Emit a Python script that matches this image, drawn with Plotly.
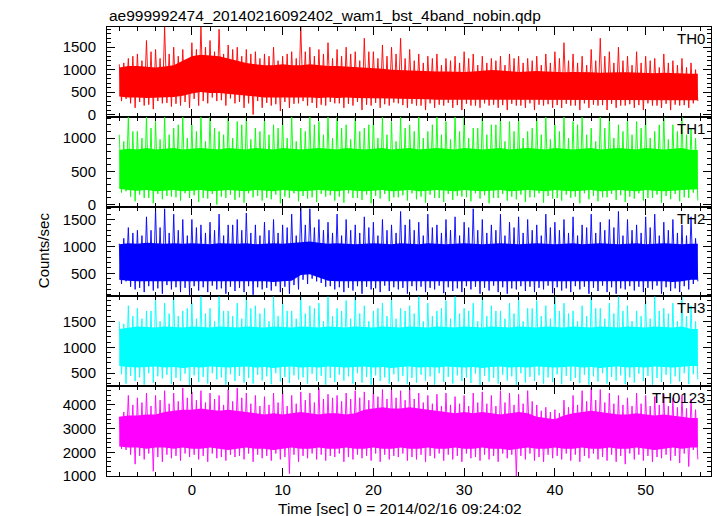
import plotly.graph_objects as go

# ---------------- data (two spikes per second) ----------------
time_s = list(range(-8, 56))  # seconds relative to 2014/02/16 09:24:02

names = ["TH0", "TH1", "TH2", "TH3", "TH0123"]
colors = ["#ff0000", "#00ff00", "#0000ff", "#00ffff", "#ff00ff"]

# TH0 (red)
th0_hi = [1120, 1250, 1350, 1650, 1450, 1950, 1500, 1450,
          1600, 1950, 1650, 1900, 1550, 1500, 1450, 1400,
          1350, 1500, 1300, 1400, 1950, 1500, 1450, 1600,
          1450, 1500, 1400, 1700, 1400, 1550, 1500, 1700,
          1450, 1350, 1300, 1350, 1250, 1300, 1400, 1350,
          1300, 1250, 1300, 1350, 1300, 1250, 1300, 1350,
          1400, 1600, 1350, 1300, 1450, 1700, 1400, 1500,
          1300, 1400, 1300, 1250, 1350, 1200, 1250, 1150]
th0_hi2 = [1150, 1300, 1200, 1400, 1250, 1350, 1300, 1200,
           1450, 1500, 1400, 1350, 1450, 1300, 1350, 1250,
           1300, 1200, 1350, 1250, 1400, 1300, 1350, 1250,
           1300, 1350, 1200, 1400, 1250, 1300, 1350, 1250,
           1200, 1150, 1250, 1100, 1200, 1150, 1250, 1100,
           1150, 1200, 1100, 1250, 1150, 1200, 1100, 1150,
           1250, 1200, 1150, 1100, 1200, 1300, 1150, 1200,
           1100, 1150, 1200, 1050, 1150, 1100, 1050, 1000]
th0_lo = [350, 150, 200, 120, 250, 180, 200, 150,
          200, 250, 300, 200, 250, 150, 0, 150,
          200, 80, 150, 250, 200, 150, 200, 250,
          150, 200, 100, 200, 150, 200, 250, 150,
          200, 100, 150, 200, 150, 100, 200, 150,
          200, 150, 100, 200, 150, 100, 200, 150,
          150, 200, 100, 150, 200, 100, 150, 200,
          150, 100, 200, 150, 100, 200, 150, 300]
th0_lo2 = [300, 250, 280, 220, 300, 260, 240, 280,
           350, 300, 380, 320, 360, 280, 250, 300,
           260, 230, 280, 240, 300, 260, 220, 280,
           250, 240, 280, 220, 260, 230, 270, 210,
           240, 200, 250, 220, 260, 210, 240, 200,
           250, 220, 210, 240, 200, 250, 220, 230,
           210, 240, 200, 250, 220, 210, 240, 200,
           230, 210, 250, 200, 240, 220, 210, 250]
th0_clo = [400, 380, 380, 370, 380, 380, 390, 420,
           470, 500, 480, 480, 470, 450, 420, 400,
           380, 370, 380, 380, 380, 380, 370, 380,
           370, 380, 370, 360, 360, 360, 360, 350,
           350, 340, 340, 330, 330, 330, 320, 330,
           330, 320, 320, 320, 330, 330, 320, 320,
           330, 330, 320, 320, 320, 330, 320, 320,
           330, 320, 320, 320, 330, 320, 320, 320]
th0_chi = [1050, 1080, 1080, 1060, 1050, 1070, 1100, 1200,
           1300, 1330, 1320, 1300, 1250, 1200, 1150, 1120,
           1100, 1100, 1120, 1100, 1100, 1120, 1100, 1080,
           1080, 1070, 1050, 1050, 1040, 1020, 1000, 990,
           980, 970, 970, 960, 960, 950, 950, 960,
           980, 990, 980, 960, 950, 960, 970, 960,
           950, 940, 950, 950, 940, 930, 940, 940,
           940, 930, 930, 920, 930, 920, 920, 910]

# TH1 (green)
th1_hi = [1050, 1320, 1100, 1320, 1250, 1320, 1150, 1320,
          1200, 1320, 1320, 1100, 1320, 1250, 1320, 1150,
          1320, 1200, 1320, 1320, 1150, 1320, 1250, 1320,
          1320, 1200, 1320, 1150, 1320, 1320, 1250, 1320,
          1200, 1320, 1100, 1320, 1250, 1320, 1320, 1150,
          1320, 1200, 1320, 1250, 1320, 1100, 1320, 1320,
          1200, 1320, 1250, 1320, 1150, 1320, 1320, 1200,
          1320, 1250, 1320, 1100, 1320, 1200, 1320, 1150]
th1_hi2 = [950, 1100, 1000, 1150, 980, 1050, 1200, 1000,
           1100, 950, 1150, 1050, 1000, 1200, 980, 1100,
           1050, 1150, 1000, 950, 1100, 1200, 1050, 1000,
           1150, 980, 1100, 1200, 1000, 1050, 950, 1150,
           1100, 1000, 1200, 1050, 980, 1100, 1000, 1150,
           1050, 1200, 950, 1100, 1000, 1150, 1050, 980,
           1100, 1000, 1200, 1050, 950, 1150, 1000, 1100,
           1050, 1150, 1000, 1200, 980, 1100, 1050, 1000]
th1_lo = [200, 50, 100, 20, 80, 120, 60, 100,
          40, 90, 0, 100, 70, 30, 110, 60,
          80, 20, 100, 50, 90, 40, 120, 60,
          30, 100, 70, 20, 90, 50, 110, 60,
          80, 30, 100, 40, 70, 120, 50, 90,
          20, 100, 60, 80, 40, 110, 30, 90,
          60, 100, 20, 80, 50, 110, 70, 40,
          90, 60, 100, 30, 80, 50, 100, 60]
th1_lo2 = [180, 120, 150, 100, 160, 130, 110, 170,
           140, 100, 160, 120, 150, 110, 170, 130,
           100, 150, 120, 170, 130, 110, 160, 140,
           120, 170, 100, 150, 130, 160, 110, 140,
           170, 120, 150, 100, 160, 130, 110, 170,
           140, 100, 160, 120, 150, 110, 170, 130,
           100, 150, 120, 170, 130, 110, 160, 140,
           120, 170, 100, 150, 130, 160, 110, 180]
th1_clo = [240, 220, 210, 220, 200, 210, 220, 200,
           210, 220, 200, 210, 220, 210, 200, 220,
           210, 200, 220, 210, 200, 210, 220, 210,
           200, 220, 210, 200, 210, 220, 200, 210,
           220, 200, 210, 220, 210, 200, 220, 210,
           200, 210, 220, 200, 210, 220, 210, 200,
           220, 210, 200, 210, 220, 200, 210, 220,
           210, 200, 220, 210, 200, 210, 220, 230]
th1_chi = [820, 840, 830, 850, 830, 840, 850, 830,
           840, 850, 840, 830, 850, 840, 830, 850,
           840, 830, 850, 840, 830, 840, 850, 840,
           830, 850, 840, 830, 840, 850, 830, 840,
           850, 830, 840, 850, 840, 830, 850, 840,
           830, 840, 850, 830, 840, 850, 840, 830,
           850, 840, 830, 840, 850, 830, 840, 850,
           840, 830, 850, 840, 830, 840, 850, 820]

# TH2 (blue)
th2_hi = [1050, 1350, 1300, 1550, 1700, 1700, 1600, 1500,
          1500, 1400, 1450, 1600, 1400, 1500, 1620, 1400,
          1450, 1500, 1400, 1600, 1740, 1700, 1500, 1450,
          1600, 1500, 1400, 1550, 1450, 1500, 1400, 1650,
          1500, 1450, 1600, 1400, 1500, 1550, 1450, 1700,
          1500, 1400, 1600, 1450, 1550, 1500, 1400, 1600,
          1450, 1500, 1550, 1400, 1600, 1450, 1500, 1650,
          1500, 1400, 1550, 1600, 1450, 1500, 1400, 1550]
th2_hi2 = [1150, 1250, 1200, 1300, 1350, 1250, 1300, 1200,
           1350, 1250, 1300, 1200, 1400, 1300, 1250, 1200,
           1300, 1250, 1350, 1200, 1400, 1350, 1300, 1250,
           1200, 1300, 1250, 1350, 1200, 1300, 1250, 1400,
           1300, 1200, 1350, 1250, 1300, 1200, 1350, 1300,
           1250, 1300, 1200, 1350, 1250, 1300, 1200, 1350,
           1300, 1250, 1200, 1350, 1250, 1300, 1350, 1200,
           1300, 1250, 1350, 1200, 1300, 1250, 1200, 1150]
th2_lo = [350, 200, 150, 180, 120, 200, 150, 100,
          180, 150, 200, 120, 170, 150, 100, 200,
          180, 150, 120, 200, 300, 350, 250, 200,
          150, 180, 120, 200, 150, 170, 200, 120,
          180, 150, 200, 130, 170, 150, 200, 120,
          180, 150, 120, 200, 170, 150, 200, 130,
          180, 150, 200, 120, 170, 150, 120, 200,
          180, 150, 200, 120, 170, 150, 200, 350]
th2_lo2 = [300, 250, 230, 260, 220, 280, 240, 230,
           260, 240, 270, 220, 250, 230, 260, 240,
           230, 260, 250, 280, 380, 400, 320, 260,
           240, 230, 260, 250, 220, 270, 240, 230,
           260, 250, 230, 270, 240, 220, 260, 250,
           230, 270, 240, 220, 260, 250, 230, 270,
           240, 220, 260, 250, 230, 270, 240, 220,
           260, 250, 230, 270, 240, 220, 260, 300]
th2_clo = [380, 360, 350, 350, 340, 350, 350, 340,
           350, 350, 350, 340, 350, 350, 340, 350,
           350, 340, 350, 360, 470, 480, 420, 360,
           350, 340, 350, 350, 340, 350, 350, 340,
           350, 350, 340, 350, 350, 340, 350, 350,
           340, 350, 350, 340, 350, 350, 340, 350,
           350, 340, 350, 350, 340, 350, 350, 340,
           350, 350, 340, 350, 350, 340, 350, 380]
th2_chi = [1040, 1060, 1050, 1070, 1060, 1050, 1060, 1050,
           1060, 1050, 1040, 1060, 1050, 1050, 1060, 1040,
           1050, 1060, 1050, 1060, 1080, 1090, 1070, 1050,
           1060, 1050, 1040, 1050, 1060, 1050, 1040, 1060,
           1050, 1040, 1060, 1050, 1040, 1050, 1060, 1050,
           1040, 1050, 1060, 1050, 1040, 1050, 1060, 1050,
           1040, 1050, 1060, 1040, 1050, 1060, 1050, 1040,
           1050, 1060, 1040, 1050, 1060, 1050, 1040, 1050]

# TH3 (cyan)
th3_hi = [1500, 1800, 1750, 1700, 1980, 1850, 1980, 1700,
          1850, 1980, 1750, 1980, 1700, 1850, 1980, 1800,
          1750, 1980, 1850, 1700, 1980, 1800, 1850, 1980,
          1750, 1900, 1980, 1800, 1700, 1850, 1980, 1750,
          1800, 1980, 1850, 1700, 1900, 1980, 1750, 1850,
          1980, 1800, 1700, 1850, 1980, 1750, 1900, 1800,
          1980, 1850, 1700, 1800, 1980, 1750, 1850, 1980,
          1800, 1700, 1900, 1980, 1750, 1850, 1980, 1800]
th3_hi2 = [1450, 1600, 1550, 1700, 1500, 1650, 1600, 1750,
           1550, 1650, 1500, 1700, 1600, 1550, 1750, 1650,
           1500, 1600, 1700, 1550, 1650, 1750, 1500, 1600,
           1700, 1550, 1650, 1500, 1750, 1600, 1550, 1700,
           1650, 1500, 1600, 1750, 1550, 1650, 1700, 1500,
           1600, 1700, 1550, 1650, 1500, 1750, 1600, 1550,
           1700, 1650, 1500, 1600, 1750, 1550, 1650, 1700,
           1500, 1600, 1550, 1700, 1650, 1500, 1600, 1500]
th3_lo = [300, 350, 280, 320, 400, 300, 350, 260,
          330, 300, 380, 280, 350, 320, 300, 360,
          290, 340, 310, 380, 300, 350, 280, 330,
          360, 300, 320, 280, 350, 300, 340, 290,
          320, 360, 280, 330, 300, 350, 310, 270,
          340, 300, 360, 280, 320, 350, 300, 330,
          290, 350, 310, 280, 340, 300, 360, 290,
          320, 350, 280, 330, 300, 340, 290, 380]
th3_lo2 = [480, 450, 420, 500, 440, 470, 410, 490,
           460, 430, 500, 420, 480, 450, 410, 470,
           440, 500, 430, 460, 420, 490, 450, 410,
           470, 440, 500, 430, 460, 420, 480, 450,
           410, 470, 440, 500, 430, 460, 420, 490,
           450, 410, 470, 440, 500, 430, 460, 420,
           480, 450, 410, 470, 440, 500, 430, 460,
           420, 490, 450, 410, 470, 440, 500, 480]
th3_clo = [640, 620, 610, 620, 630, 610, 620, 600,
           620, 610, 630, 620, 610, 620, 630, 610,
           620, 600, 620, 630, 610, 620, 610, 630,
           620, 610, 620, 630, 610, 620, 600, 620,
           630, 610, 620, 610, 630, 620, 610, 620,
           600, 620, 630, 610, 620, 610, 630, 620,
           610, 620, 630, 610, 620, 600, 620, 630,
           610, 620, 610, 630, 620, 610, 620, 640]
th3_chi = [1350, 1380, 1400, 1390, 1380, 1400, 1390, 1380,
           1400, 1390, 1380, 1400, 1390, 1380, 1400, 1390,
           1380, 1400, 1390, 1380, 1400, 1390, 1380, 1400,
           1390, 1380, 1400, 1390, 1380, 1400, 1390, 1380,
           1400, 1390, 1380, 1400, 1390, 1380, 1400, 1390,
           1380, 1400, 1390, 1380, 1400, 1390, 1380, 1400,
           1390, 1380, 1400, 1390, 1380, 1400, 1390, 1380,
           1400, 1390, 1380, 1400, 1390, 1380, 1400, 1350]

# TH0123 (magenta)
th4_hi = [3500, 4400, 4300, 4500, 4400, 4600, 4500, 4720,
          4550, 4600, 4500, 4400, 4650, 4720, 4500, 4400,
          4350, 4500, 4600, 4400, 4550, 4500, 4700, 4450,
          4400, 4500, 4600, 4550, 4720, 4650, 4700, 4600,
          4720, 4500, 4400, 4450, 4500, 4350, 4400, 4500,
          4550, 4400, 4600, 4500, 4450, 4600, 4000, 3900,
          3800, 4200, 4400, 4600, 4720, 4650, 4500, 4400,
          4300, 4500, 4400, 4350, 4450, 4300, 4400, 4250]
th4_hi2 = [3700, 4000, 4100, 3950, 4200, 4050, 4150, 4300,
           4200, 4100, 4250, 4000, 4150, 4300, 4050, 3950,
           4000, 4100, 3950, 4050, 4200, 4100, 4250, 4300,
           4150, 4250, 4300, 4200, 4350, 4250, 4300, 4200,
           4250, 4100, 4050, 3950, 4000, 4050, 3950, 4100,
           4050, 3950, 4100, 4000, 4050, 4150, 3750, 3700,
           3650, 3900, 4000, 4150, 4200, 4100, 4050, 4000,
           3950, 4050, 3950, 4000, 3950, 3900, 3850, 3800]
th4_lo = [2100, 1500, 1700, 1200, 1600, 1750, 1650, 1800,
          1700, 1600, 1750, 1650, 1800, 1700, 1600, 1750,
          1650, 1700, 1100, 1600, 1750, 1700, 1650, 1800,
          1600, 1700, 1750, 1650, 1600, 1700, 1800, 1650,
          1700, 1600, 1750, 1650, 1700, 1600, 1750, 1650,
          1700, 1600, 1750, 1000, 1700, 1650, 1600, 1750,
          1700, 1650, 1600, 1750, 1700, 1650, 1600, 1500,
          1700, 1650, 1600, 1750, 1650, 1550, 1400, 1700]
th4_lo2 = [2150, 1900, 1850, 1950, 1800, 1900, 1850, 1950,
           1900, 1850, 1950, 1800, 1900, 1850, 1950, 1900,
           1850, 1950, 1800, 1900, 1850, 1950, 1900, 1850,
           1950, 1800, 1900, 1850, 1950, 1900, 1850, 1950,
           1800, 1900, 1850, 1950, 1900, 1850, 1950, 1800,
           1900, 1850, 1950, 1900, 1850, 1950, 1800, 1900,
           1850, 1950, 1900, 1850, 1950, 1800, 1900, 1850,
           1950, 1900, 1850, 1800, 1900, 1850, 1950, 2100]
th4_clo = [2250, 2200, 2200, 2150, 2200, 2200, 2150, 2200,
           2150, 2150, 2200, 2150, 2100, 2150, 2200, 2150,
           2150, 2100, 2150, 2200, 2150, 2150, 2200, 2150,
           2150, 2200, 2150, 2150, 2200, 2150, 2150, 2200,
           2150, 2150, 2200, 2150, 2150, 2200, 2150, 2150,
           2200, 2150, 2150, 2100, 2150, 2200, 2150, 2150,
           2200, 2150, 2150, 2200, 2150, 2150, 2200, 2150,
           2150, 2200, 2150, 2100, 2150, 2200, 2150, 2200]
th4_chi = [3500, 3550, 3550, 3600, 3600, 3700, 3750, 3800,
           3800, 3850, 3800, 3750, 3800, 3750, 3700, 3650,
           3600, 3650, 3600, 3650, 3700, 3650, 3600, 3650,
           3650, 3600, 3650, 3800, 3850, 3900, 3850, 3850,
           3900, 3850, 3800, 3750, 3700, 3650, 3700, 3650,
           3700, 3650, 3600, 3650, 3700, 3650, 3500, 3450,
           3400, 3550, 3650, 3700, 3750, 3700, 3650, 3600,
           3600, 3650, 3600, 3550, 3600, 3550, 3500, 3450]

panel_hi = [th0_hi, th1_hi, th2_hi, th3_hi, th4_hi]
panel_hi2 = [th0_hi2, th1_hi2, th2_hi2, th3_hi2, th4_hi2]
panel_lo = [th0_lo, th1_lo, th2_lo, th3_lo, th4_lo]
panel_lo2 = [th0_lo2, th1_lo2, th2_lo2, th3_lo2, th4_lo2]
panel_clo = [th0_clo, th1_clo, th2_clo, th3_clo, th4_clo]
panel_chi = [th0_chi, th1_chi, th2_chi, th3_chi, th4_chi]

y_ranges = [[-50, 1950], [-30, 1320], [70, 1740], [250, 1980], [1000, 4790]]
y_dtick = [500, 500, 500, 500, 1000]
y_minor = [100, 100, 100, 100, 200]

title_text = "ae999992474_20140216092402_wam1_bst_4band_nobin.qdp"
x_title = "Time [sec] 0 = 2014/02/16 09:24:02"
y_title = "Counts/sec"

# ---------------- figure ----------------
FONT = "Liberation Sans, Arial, Helvetica, sans-serif"
fig = go.Figure()
n = len(names)

for i in range(n):
    xa = "x" if i == 0 else f"x{i+1}"
    ya = "y" if i == 0 else f"y{i+1}"
    col = colors[i]
    # dense core of the light curve
    bx = time_s + [time_s[-1] + 0.75] + [time_s[-1] + 0.75] + time_s[::-1]
    by = panel_chi[i] + [panel_chi[i][-1]] + [panel_clo[i][-1]] + panel_clo[i][::-1]
    fig.add_trace(go.Scatter(x=bx, y=by, xaxis=xa, yaxis=ya, mode="lines",
                             fill="toself", fillcolor=col, line=dict(width=0, color=col),
                             hoverinfo="skip", showlegend=False))
    # spikes
    sx, sy = [], []
    for k, t in enumerate(time_s):
        sx += [t, t + 0.25, t + 0.5, t + 0.75]
        sy += [panel_hi[i][k], panel_lo2[i][k], panel_hi2[i][k], panel_lo[i][k]]
    fig.add_trace(go.Scatter(x=sx, y=sy, xaxis=xa, yaxis=ya, mode="lines",
                             line=dict(width=0.9, color=col), showlegend=False))

axis_common = dict(showline=True, linecolor="black", linewidth=1, mirror="ticks",
                   ticks="inside", tickcolor="black", showgrid=False, zeroline=False,
                   tickfont=dict(family=FONT, size=15, color="black"))

layout = dict(width=717, height=516, plot_bgcolor="white", paper_bgcolor="white",
              margin=dict(l=107, r=6, t=27, b=40), showlegend=False,
              font=dict(family=FONT, size=15, color="black"))

for i in range(n):
    top = 1 - i / n
    bot = 1 - (i + 1) / n
    xkey = "xaxis" if i == 0 else f"xaxis{i+1}"
    ykey = "yaxis" if i == 0 else f"yaxis{i+1}"
    ya = "y" if i == 0 else f"y{i+1}"
    xd = dict(axis_common, domain=[0, 1], anchor=ya, range=[-9.35, 57.2],
              dtick=10, tick0=0, ticklen=8,
              minor=dict(dtick=2, tick0=0, ticklen=4, ticks="inside", tickcolor="black"),
              showticklabels=(i == n - 1))
    if i > 0:
        xd["matches"] = "x"
    layout[xkey] = xd
    layout[ykey] = dict(axis_common, domain=[bot, top], anchor="x" if i == 0 else f"x{i+1}",
                        range=y_ranges[i], dtick=y_dtick[i], tick0=0, ticklen=8,
                        ticklabelstandoff=7,
                        minor=dict(dtick=y_minor[i], tick0=0, ticklen=4, ticks="inside",
                                   tickcolor="black"))

fig.update_layout(**layout)

ann = [dict(text=title_text, xref="paper", yref="paper", x=0, y=1, xanchor="left",
            yanchor="bottom", yshift=1, showarrow=False, font=dict(family=FONT, size=15.5)),
       dict(text=y_title, xref="paper", yref="paper", x=0, y=0.503, xshift=-64,
            xanchor="center", yanchor="middle",
            textangle=-90, showarrow=False, font=dict(family=FONT, size=15)),
       dict(text=x_title, xref="paper", yref="paper", x=0.485, y=0, yshift=-32,
            xanchor="center", yanchor="middle", showarrow=False,
            font=dict(family=FONT, size=15.5))]
for i in range(n):
    ann.append(dict(text=names[i], xref="paper", yref="paper", x=1, y=1 - i / n,
                    xanchor="right", yanchor="top", xshift=-4, yshift=-1, showarrow=False,
                    font=dict(family=FONT, size=15)))
fig.update_layout(annotations=ann)

fig.write_html("out.html", config={"displayModeBar": False},
               post_script="document.body.style.margin='0px';document.body.style.padding='0px';")
